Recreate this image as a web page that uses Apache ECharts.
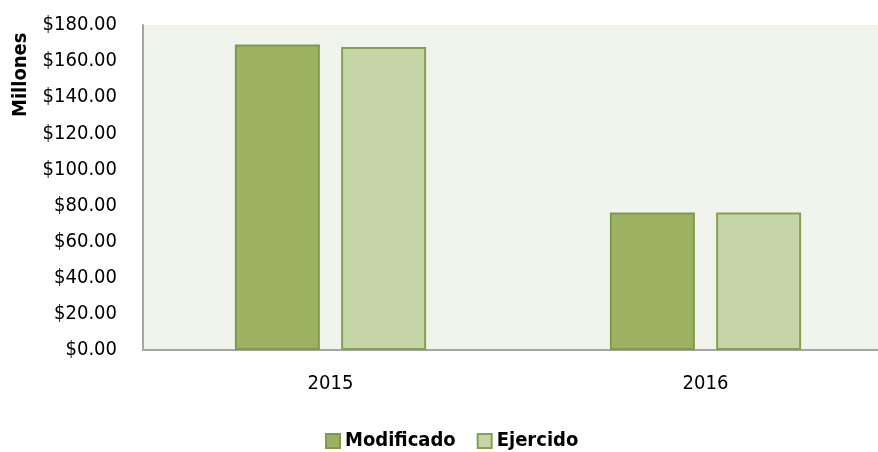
<!DOCTYPE html>
<html>
<head>
<meta charset="utf-8">
<script src="https://cdn.jsdelivr.net/npm/echarts@6/dist/echarts.min.js"></script>
<style>
  html, body { margin: 0; padding: 0; background: #fff; }
  #chart { width: 878px; height: 452px; }
</style>
</head>
<body>
<div id="chart"></div>
<script>
  // datos
  const years = ['2015', '2016']
  const modificado = [169.2, 76.2]
  const ejercido = [167.8, 76.2]
  const seriesNames = ['Modificado', 'Ejercido']

  const font = "'DejaVu Sans Condensed', 'DejaVu Sans', sans-serif"

  const chart = echarts.init(document.getElementById('chart'))
  const option = {
    backgroundColor: '#ffffff',
    textStyle: { fontFamily: font },
    grid: {
      left: 143,
      top: 25,
      right: -15,
      bottom: 102,
      outerBoundsMode: 'none',
      containLabel: false,
      show: true,
      backgroundColor: '#f1f3ed',
      borderWidth: 0
    },
    legend: {
      data: seriesNames,
      bottom: -4,
      left: 320,
      itemWidth: 14,
      itemHeight: 14,
      itemGap: 21,
      icon: 'rect',
      textStyle: { fontFamily: font, fontSize: 20, fontWeight: 'bold', color: '#000' }
    },
    graphic: [{
      type: 'text',
      x: 11,
      y: 117,
      rotation: Math.PI / 2,
      style: {
        text: 'Millones',
        font: "bold 20px " + font,
        fill: '#000'
      }
    }],
    xAxis: {
      type: 'category',
      data: years,
      axisLine: { lineStyle: { color: '#a6a6a6', width: 2 } },
      axisTick: { show: false },
      axisLabel: { fontSize: 20, color: '#000', margin: 24, fontFamily: font }
    },
    yAxis: {
      type: 'value',
      min: 0,
      max: 180,
      interval: 20,
      axisLine: { show: true, lineStyle: { color: '#a6a6a6', width: 2 } },
      axisTick: { show: false },
      splitLine: { show: false },
      axisLabel: {
        fontSize: 20,
        color: '#000',
        margin: 26,
        fontFamily: font,
        formatter: v => '$' + v.toFixed(2)
      }
    },
    series: [
      {
        name: seriesNames[0],
        type: 'bar',
        data: modificado,
        barWidth: 85,
        barGap: '25%',
        itemStyle: { color: '#9db162', borderColor: '#7f9a48', borderWidth: 2 }
      },
      {
        name: seriesNames[1],
        type: 'bar',
        data: ejercido,
        barWidth: 85,
        itemStyle: { color: '#c6d5a7', borderColor: '#86a04f', borderWidth: 2 }
      }
    ]
  }
  chart.setOption(option)
</script>
</body>
</html>
